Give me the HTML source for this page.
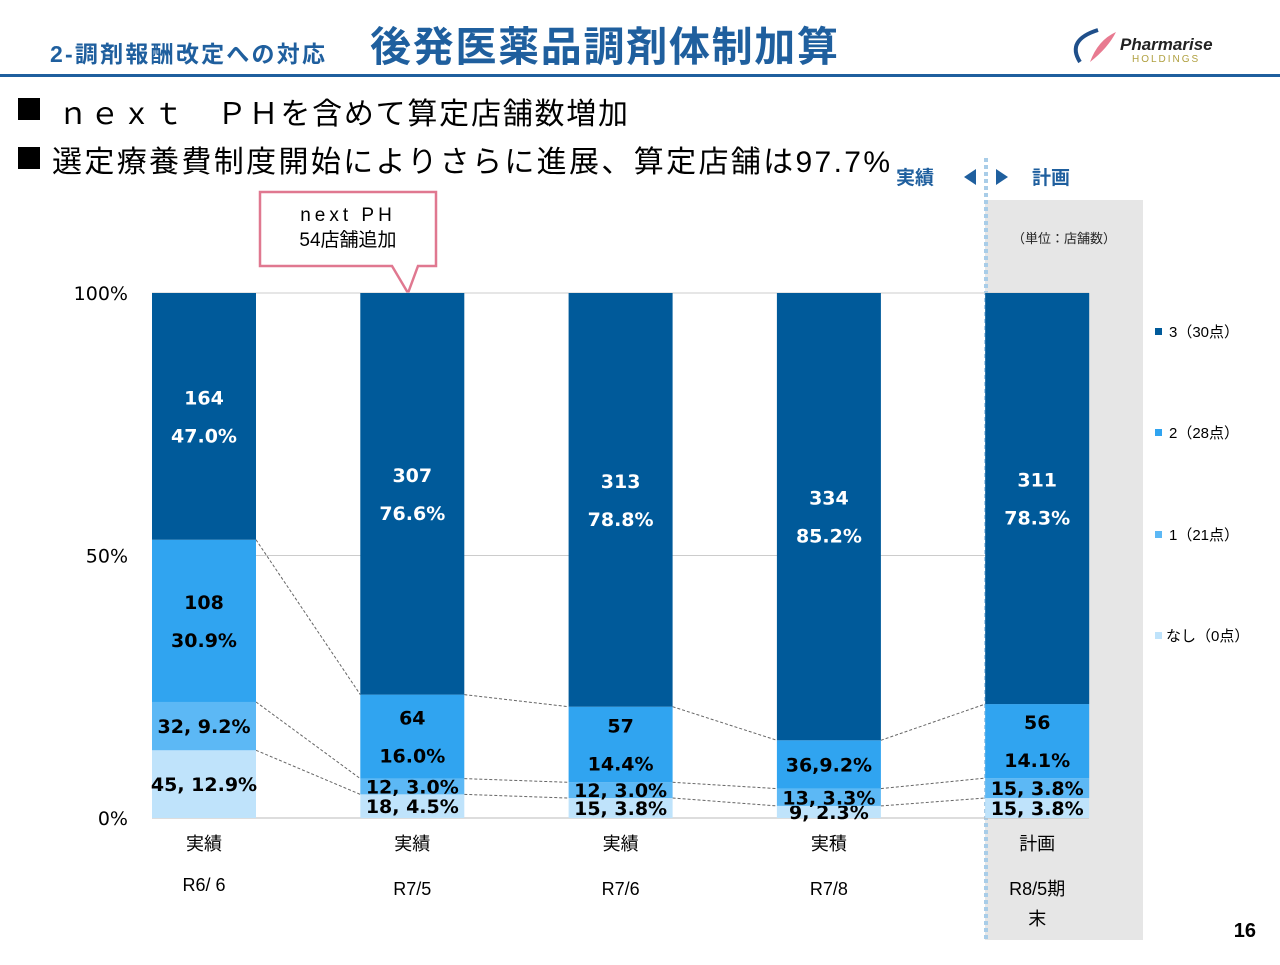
<!DOCTYPE html>
<html><head><meta charset="utf-8">
<style>
body{margin:0;background:#fff;}
svg text{font-family:"Liberation Sans","Noto Sans CJK JP",sans-serif;}
svg text.v{font-family:"DejaVu Sans","Noto Sans CJK JP",sans-serif;}
</style></head>
<body>
<svg id="chart" width="1280" height="960" xmlns="http://www.w3.org/2000/svg">
<rect x="0" y="0" width="1280" height="960" fill="#fff"/>
<text x="50" y="62" font-size="23" font-weight="bold" fill="#1f5f9e" textLength="275">2-調剤報酬改定への対応</text>
<text x="370" y="61" font-size="41" font-weight="bold" fill="#1f5f9e" textLength="468">後発医薬品調剤体制加算</text>
<g>
<path d="M1080 62 Q1066 40 1098 30" stroke="#1f4f8a" stroke-width="4" fill="none"/>
<path d="M1090 62 Q1098 40 1116 32 Q1108 48 1090 62Z" fill="#e87a90"/>
<text x="1120" y="50" font-size="17" font-weight="bold" font-style="italic" fill="#222">Pharmarise</text>
<text x="1132" y="62" font-size="10" letter-spacing="2" fill="#b0a040">HOLDINGS</text>
</g>
<rect x="0" y="74" width="1280" height="3" fill="#1f5f9e"/>
<rect x="18" y="98" width="22" height="22" fill="#000"/>
<text x="58" y="124" font-size="30" fill="#000" textLength="570">ｎｅｘｔ　ＰＨを含めて算定店舗数増加</text>
<rect x="18" y="147" width="22" height="22" fill="#000"/>
<text x="52" y="172" font-size="30" fill="#000" textLength="838">選定療養費制度開始によりさらに進展、算定店舗は97.7%</text>
<rect x="985" y="200" width="158" height="740" fill="#e6e6e6"/>
<line x1="986" y1="158" x2="986" y2="940" stroke="#a9cde8" stroke-width="4" stroke-dasharray="4,3"/>
<text x="896" y="184" font-size="19" font-weight="bold" fill="#1f5f9e">実績</text>
<path d="M964 177 L976 169 L976 185Z" fill="#1f5f9e"/>
<path d="M1008 177 L996 169 L996 185Z" fill="#1f5f9e"/>
<text x="1032" y="184" font-size="19" font-weight="bold" fill="#1f5f9e">計画</text>
<text x="1064" y="243" font-size="13" text-anchor="middle" fill="#222">（単位：店舗数）</text>
<g>
<path d="M260 192 H436 V266 H418 L408 293 L392 266 H260Z" fill="#fff" stroke="#e07890" stroke-width="2.5"/>
<text x="348" y="221" font-size="19" text-anchor="middle" letter-spacing="4" fill="#000">next PH</text>
<text x="348" y="246" font-size="19" text-anchor="middle" fill="#000">54店舗追加</text>
</g>
<g id="grid"></g>
<g id="links"></g>
<g id="bars"></g>
<g id="legend"></g>
<text x="1256" y="937" font-size="20" font-weight="bold" text-anchor="end" fill="#000">16</text>
</svg>
<script>
const categories=["R6/ 6","R7/5","R7/6","R7/8","R8/5期"];
const catType=["実績","実績","実績","実積","計画"];
const seriesNames=["なし（0点）","1（21点）","2（28点）","3（30点）"];
const pctNone=[12.9,4.5,3.8,2.3,3.8];
const pct1=[9.2,3.0,3.0,3.3,3.8];
const pct2=[30.9,16.0,14.4,9.2,14.1];
const pct3=[47.0,76.6,78.8,85.2,78.3];
const cntNone=[45,18,15,9,15];
const cnt1=[32,12,12,13,15];
const cnt2=[108,64,57,36,56];
const cnt3=[164,307,313,334,311];
const yTicks=[0,50,100];
const yTickLabels=["0%","50%","100%"];

const NS="http://www.w3.org/2000/svg";
const colors=["#bfe3fb","#5cb8f5","#30a4f0","#005a9a"];
const y0=818,y100=293;
const yS=v=>y0-(v/100)*(y0-y100);
const barW=104;
const xS=i=>152+i*208.3;
function mk(tag,attrs,parent){const e=document.createElementNS(NS,tag);for(const k in attrs)e.setAttribute(k,attrs[k]);parent.appendChild(e);return e;}
const grid=document.getElementById('grid'),bars=document.getElementById('bars'),links=document.getElementById('links'),legend=document.getElementById('legend');
yTicks.forEach((t,i)=>{
  const l=mk('line',{x1:152,x2:1089,y1:yS(t),y2:yS(t),stroke:i==0?'#bbb':'#ccc','stroke-width':1},grid);
  
  
  const tx=mk('text',{class:'v',x:128,y:yS(t)+7,'font-size':19,'text-anchor':'end',fill:'#000'},grid);
  tx.textContent=yTickLabels[i];
  
  
});
const pcts=[pctNone,pct1,pct2,pct3],cnts=[cntNone,cnt1,cnt2,cnt3];
const tops=[];
categories.forEach((c,i)=>{
  let acc=0;tops[i]=[];
  const x=xS(i);
  for(let s=0;s<4;s++){
    const v=pcts[s][i];
    let yb=yS(acc),yt=s==3?y100:yS(acc+v);
    acc+=v;tops[i][s]=yt;
    const r=mk('rect',{x:x,y:yt,width:barW,height:Math.max(0,yb-yt),fill:colors[s]},bars);
    
    
    const cy=(yt+yb)/2;
    const h=yb-yt;
    if(s>=2 && h>60){
      const a=mk('text',{class:'v',x:x+barW/2,y:cy-12,'font-size':19,'font-weight':'bold','text-anchor':'middle',fill:s==3?'#fff':'#000'},bars);
      a.textContent=cnts[s][i];
      
      
      const b=mk('text',{class:'v',x:x+barW/2,y:cy+26,'font-size':19,'font-weight':'bold','text-anchor':'middle',fill:s==3?'#fff':'#000'},bars);
      b.textContent=pcts[s][i].toFixed(1)+'%';
      
      
    }else{
      const sep=(i==3&&s==2)?',':', ';
      const a=mk('text',{class:'v',x:x+barW/2,y:cy+7,'font-size':19,'font-weight':'bold','text-anchor':'middle',fill:'#000'},bars);
      a.textContent=cnts[s][i]+sep+pcts[s][i].toFixed(1)+'%';
      
      
    }
  }
  const t1=mk('text',{x:x+barW/2,y:850,'font-size':18,'text-anchor':'middle',fill:'#000'},bars);
  t1.textContent=catType[i];
  
  
  const t2=mk('text',{x:x+barW/2,y:i==0?891:895,'font-size':18,'text-anchor':'middle',fill:'#000'},bars);
  t2.textContent=c;
  
  
  if(i==4){const t3=mk('text',{x:x+barW/2,y:925,'font-size':18,'text-anchor':'middle',fill:'#000'},bars);t3.textContent='末';
  
  }
});
for(let i=0;i<categories.length-1;i++){
  for(let s=0;s<3;s++){
    const l=mk('line',{x1:xS(i)+barW,y1:tops[i][s],x2:xS(i+1),y2:tops[i+1][s],stroke:'#666','stroke-width':1,'stroke-dasharray':'3,2'},links);
    
    
  }
}
const legY=[332,433,535,636];
[3,2,1,0].forEach((s,k)=>{
  const r=mk('rect',{x:1155,y:legY[k]-4,width:7,height:7,fill:colors[s]},legend);
  
  
  const t=mk('text',{x:s==0?1166:1169,y:legY[k]+5,'font-size':15,fill:'#000'},legend);
  t.textContent=seriesNames[s];
  
  
});
</script>
</body></html>
